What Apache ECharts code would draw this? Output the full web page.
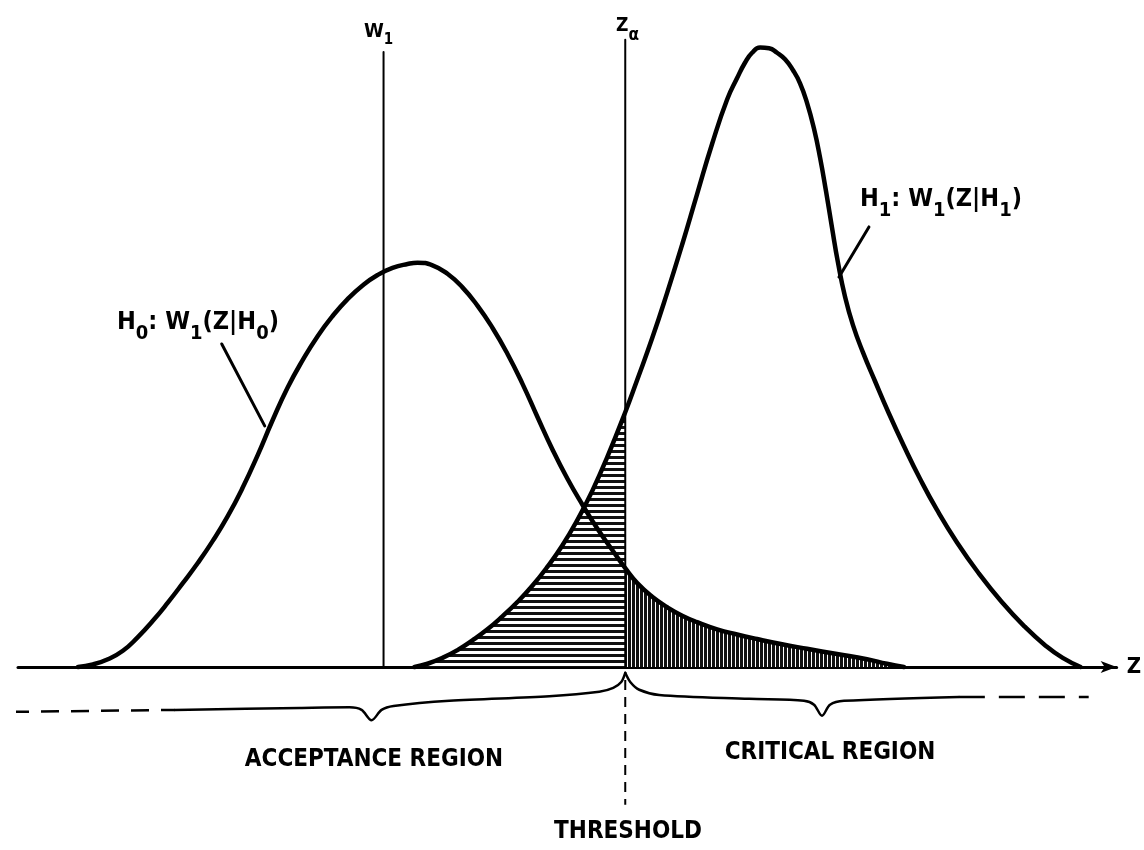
<!DOCTYPE html>
<html>
<head>
<meta charset="utf-8">
<script src="https://cdn.jsdelivr.net/npm/echarts@6/dist/echarts.min.js"></script>
<style>
  html, body { margin: 0; padding: 0; background: #fff; }
  #chart { width: 1144px; height: 850px; }
</style>
</head>
<body>
<div id="chart"></div>
<script>
// values: z along the axis, w = density height
const h0Curve = [
  [6.0, 0], [7.5, 0.4], [9.0, 1.2], [10.5, 2.5], [12.0, 4.6], [13.5, 7.1], [15.0, 9.9],
  [16.5, 12.9], [18.0, 16.0], [19.5, 19.4], [21.0, 23.2], [22.5, 27.6], [24.0, 32.6],
  [25.5, 38.0], [27.0, 43.0], [28.5, 47.2], [30.0, 50.9], [31.5, 54.0], [33.0, 56.6],
  [34.5, 58.7], [36.0, 60.3], [37.5, 61.4], [39.0, 62.0], [40.0, 62.2], [41.5, 61.8],
  [43.0, 60.5], [44.5, 58.4], [46.0, 55.6], [47.5, 52.2], [49.0, 48.2], [50.5, 43.6],
  [52.0, 38.5], [53.5, 33.5], [55.0, 29.0], [56.5, 25.0], [58.0, 21.3], [59.5, 18.0],
  [60.8, 15.2], [62.0, 12.9], [63.5, 10.8], [65.0, 9.2], [66.5, 7.9], [68.0, 6.9],
  [70.0, 5.8], [72.0, 5.0], [74.0, 4.3], [76.5, 3.5], [79.0, 2.8], [82.0, 2.0],
  [85.0, 1.2], [87.0, 0.5], [88.7, 0]
];
const h1Curve = [
  [39.7, 0], [41.0, 0.5], [42.5, 1.4], [44.0, 2.6], [45.5, 4.1], [47.0, 5.8], [48.5, 7.8],
  [50.0, 10.0], [51.5, 12.5], [53.0, 15.4], [54.5, 18.7], [56.0, 22.6], [57.5, 27.1],
  [59.0, 32.3], [60.8, 39.2], [62.0, 44.2], [63.5, 50.6], [65.0, 57.6], [66.5, 65.0],
  [68.0, 72.8], [69.5, 80.5], [71.0, 87.3], [72.0, 90.6], [72.8, 93.0], [73.5, 94.5],
  [74.3, 95.3], [75.2, 95.2], [76.0, 94.5], [76.8, 93.5], [77.6, 91.8], [78.3, 89.8],
  [79.0, 86.8], [79.7, 82.8], [80.3, 78.4], [80.9, 73.2], [81.5, 67.6], [82.1, 62.2],
  [82.8, 57.0], [83.6, 52.6], [84.6, 48.4], [85.8, 44.0], [87.2, 39.0], [88.7, 34.0],
  [90.3, 29.0], [92.0, 24.2], [94.0, 19.2], [96.2, 14.4], [98.5, 10.0], [100.8, 6.2],
  [102.8, 3.4], [104.6, 1.4], [106.4, 0]
];
const zAlpha = 60.8;
const w1Mark = 36.6;
const w1Top = 94.6;
const zAlphaTop = 96.5;
const thresholdBottom = -21.2;

// braces under the axis
const leftDashes = [[-0.7, -6.9], [15.7, -6.6]];
const leftBrace = [
  [15.7, -6.6], [28.2, -6.3], [33.2, -6.2], [34.4, -6.6], [35.4, -8.2], [36.4, -6.6],
  [37.6, -6.0], [43.2, -5.2], [53.2, -4.5], [58.2, -3.8], [59.6, -3.2], [60.4, -2.3], [60.8, -0.9]
];
const rightBrace = [
  [60.8, -0.9], [61.3, -2.3], [62.2, -3.5], [64.2, -4.3], [73.2, -4.9], [78.7, -5.2],
  [79.7, -5.8], [80.5, -7.5], [81.3, -5.8], [82.7, -5.2], [94.2, -4.6]
];
const rightDashes = [[94.2, -4.6], [107.2, -4.6]];
const h0Leader = [[20.4, 49.7], [24.7, 37.1]];
const h1Leader = [[85.2, 67.7], [82.2, 60.0]];

const FONT = "'DejaVu Sans Condensed', 'Liberation Sans Narrow', 'DejaVu Sans', sans-serif";

function hatch(w, h, draw) {
  const c = document.createElement('canvas');
  c.width = w;
  c.height = h;
  const ctx = c.getContext('2d');
  ctx.fillStyle = '#fff';
  ctx.fillRect(0, 0, w, h);
  ctx.fillStyle = '#111';
  draw(ctx);
  return c;
}
const horizHatch = hatch(6, 6, ctx => ctx.fillRect(0, 0, 6, 3));
const vertHatch = hatch(4, 4, ctx => ctx.fillRect(0, 0, 3, 4));

function plain(name, data, width, extra) {
  return Object.assign({
    name: name,
    type: 'line',
    data: data,
    symbol: 'none',
    silent: true,
    clip: false,
    lineStyle: { color: '#000', width: width, cap: 'round', join: 'round' }
  }, extra || {});
}

const sub = (main, s) => ({
  m: { fontSize: main, fontWeight: 'bold', fontFamily: FONT, color: '#000', lineHeight: main, verticalAlign: 'top' },
  s: { fontSize: s, fontWeight: 'bold', fontFamily: FONT, color: '#000', lineHeight: s, verticalAlign: 'top', padding: [Math.round(main * 0.55), 0, 0, 0] }
});

const SMOOTH = 0.5;

const chart = echarts.init(document.getElementById('chart'));
chart.setOption({
  backgroundColor: '#fff',
  animation: false,
  grid: { left: 18, right: 26, top: 17, bottom: 1 },
  xAxis: {
    type: 'value',
    min: 0,
    max: 110,
    name: 'Z',
    nameLocation: 'end',
    nameGap: 10,
    nameTextStyle: { fontSize: 22, fontWeight: 'bold', fontFamily: FONT, color: '#000', verticalAlign: 'middle' },
    axisLine: {
      show: true,
      onZero: true,
      symbol: ['none', 'arrow'],
      symbolSize: [9, 16],
      lineStyle: { color: '#000', width: 3 }
    },
    axisTick: { show: false },
    axisLabel: { show: false },
    splitLine: { show: false }
  },
  yAxis: {
    type: 'value',
    min: -28,
    max: 100,
    axisLine: { show: false },
    axisTick: { show: false },
    axisLabel: { show: false },
    splitLine: { show: false }
  },
  series: [
    plain('beta', h1Curve.filter(p => p[0] <= zAlpha), 0, {
      smooth: SMOOTH,
      lineStyle: { width: 0, opacity: 0 },
      areaStyle: { color: { image: horizHatch, repeat: 'repeat' }, opacity: 1 }
    }),
    plain('alpha', h0Curve.filter(p => p[0] >= zAlpha), 0, {
      smooth: SMOOTH,
      lineStyle: { width: 0, opacity: 0 },
      areaStyle: { color: { image: vertHatch, repeat: 'repeat' }, opacity: 1 }
    }),
    plain('W1', [[w1Mark, 0], [w1Mark, w1Top]], 2),
    plain('Z alpha', [[zAlpha, 0], [zAlpha, zAlphaTop]], 2),
    plain('threshold', [[zAlpha, -2], [zAlpha, thresholdBottom]], 2, {
      lineStyle: { color: '#000', width: 2, type: [10, 7] }
    }),
    plain('H0', h0Curve, 4.5, { smooth: SMOOTH }),
    plain('H1', h1Curve, 4.5, { smooth: SMOOTH }),
    plain('left dashes', leftDashes, 2.5, {
      lineStyle: { color: '#000', width: 2.5, type: [18, 12] }
    }),
    plain('left brace', leftBrace, 2.5, { smooth: 0.3 }),
    plain('right brace', rightBrace, 2.5, { smooth: 0.3 }),
    plain('right dashes', rightDashes, 2.5, {
      lineStyle: { color: '#000', width: 2.5, type: [26, 14] }
    }),
    plain('H0 leader', h0Leader, 3),
    plain('H1 leader', h1Leader, 3)
  ],
  graphic: [
    {
      type: 'text', x: 364, y: 22,
      style: { text: '{m|W}{s|1}', rich: sub(20, 15) }
    },
    {
      type: 'text', x: 616, y: 17,
      style: { text: '{m|Z}{s|α}', rich: sub(19, 17) }
    },
    {
      type: 'text', x: 117, y: 310,
      style: { text: '{m|H}{s|0}{m|: W}{s|1}{m|(Z|H}{s|0}{m|)}', rich: sub(25, 20) }
    },
    {
      type: 'text', x: 860, y: 187,
      style: { text: '{m|H}{s|1}{m|: W}{s|1}{m|(Z|H}{s|1}{m|)}', rich: sub(25, 20) }
    },
    {
      type: 'text', x: 575, y: 610,
      style: {
        text: 'β', align: 'center', verticalAlign: 'middle',
        font: 'italic bold 22px ' + FONT, fill: '#000',
        backgroundColor: '#fff', padding: [1, 2]
      }
    },
    {
      type: 'text', x: 672, y: 641,
      style: {
        text: 'α', align: 'center', verticalAlign: 'middle',
        font: 'italic 15px ' + FONT, fill: '#000',
        backgroundColor: '#ddd', padding: [0, 1]
      }
    },
    {
      type: 'text', x: 374, y: 760,
      style: { text: 'ACCEPTANCE REGION', align: 'center', verticalAlign: 'middle', font: 'bold 24px ' + FONT, fill: '#000' }
    },
    {
      type: 'text', x: 830, y: 753,
      style: { text: 'CRITICAL REGION', align: 'center', verticalAlign: 'middle', font: 'bold 24px ' + FONT, fill: '#000' }
    },
    {
      type: 'text', x: 628, y: 832,
      style: { text: 'THRESHOLD', align: 'center', verticalAlign: 'middle', font: 'bold 24px ' + FONT, fill: '#000' }
    }
  ]
});
</script>
</body>
</html>
